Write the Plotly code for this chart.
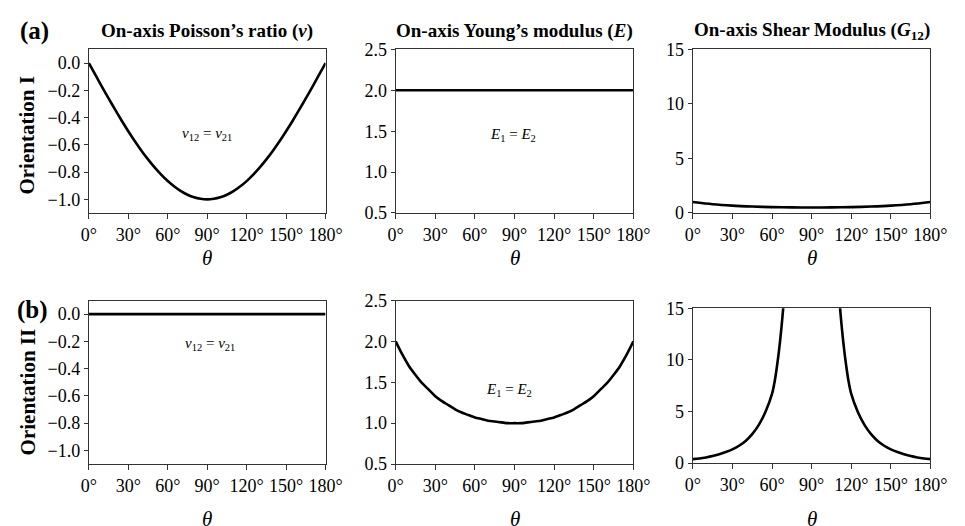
import plotly.graph_objects as go

# ---------------- data ----------------
theta5 = [0, 5, 10, 15, 20, 25, 30, 35, 40, 45, 50, 55, 60, 65, 70, 75, 80, 85, 90,
          95, 100, 105, 110, 115, 120, 125, 130, 135, 140, 145, 150, 155, 160, 165, 170, 175, 180]

# Orientation I, Poisson's ratio nu12 = nu21
nu_I = [0.0, -0.087, -0.174, -0.259, -0.342, -0.423, -0.500, -0.574, -0.643, -0.707,
        -0.766, -0.819, -0.866, -0.906, -0.940, -0.966, -0.985, -0.996, -1.0,
        -0.996, -0.985, -0.966, -0.940, -0.906, -0.866, -0.819, -0.766, -0.707,
        -0.643, -0.574, -0.500, -0.423, -0.342, -0.259, -0.174, -0.087, 0.0]

# Orientation I, Young's modulus E1 = E2
theta_E_I = [0, 180]
E_I = [2.0, 2.0]

# Orientation I, shear modulus G12
theta_G_I = [0, 15, 30, 45, 60, 75, 90, 105, 120, 135, 150, 165, 180]
G_I = [1.0, 0.80, 0.67, 0.59, 0.54, 0.51, 0.50, 0.51, 0.54, 0.59, 0.67, 0.80, 1.0]

# Orientation II, Poisson's ratio
theta_nu_II = [0, 180]
nu_II = [0.0, 0.0]

# Orientation II, Young's modulus
E_II = [2.00, 1.84, 1.70, 1.59, 1.49, 1.41, 1.33, 1.27, 1.22, 1.17, 1.13, 1.10,
        1.07, 1.05, 1.03, 1.02, 1.01, 1.00, 1.00,
        1.00, 1.01, 1.02, 1.03, 1.05, 1.07, 1.10, 1.13, 1.17, 1.22, 1.27, 1.33,
        1.41, 1.49, 1.59, 1.70, 1.84, 2.00]

# Orientation II, shear modulus (goes off scale between ~69 and ~111 deg)
theta_G_II = [0, 5, 10, 15, 20, 25, 30, 35, 40, 45, 50, 55, 60, 62, 64, 66, 68, 70, None,
              110, 112, 114, 116, 118, 120, 125, 130, 135, 140, 145, 150, 155, 160, 165, 170, 175, 180]
G_II = [0.38, 0.45, 0.55, 0.68, 0.86, 1.07, 1.33, 1.68, 2.15, 2.80, 3.70, 4.95, 6.70, 7.9, 9.6, 11.7, 14.3, 17.6, None,
        17.6, 14.3, 11.7, 9.6, 7.9, 6.70, 4.95, 3.70, 2.80, 2.15, 1.68, 1.33, 1.07, 0.86, 0.68, 0.55, 0.45, 0.38]

x_ticks = [0, 30, 60, 90, 120, 150, 180]
x_ticktext = ["0°", "30°", "60°", "90°", "120°", "150°", "180°"]
nu_ticks = [0.0, -0.2, -0.4, -0.6, -0.8, -1.0]
nu_ticktext = ["0.0", "\u22120.2", "\u22120.4", "\u22120.6", "\u22120.8", "\u22121.0"]
E_ticks = [0.5, 1.0, 1.5, 2.0, 2.5]
E_ticktext = ["0.5", "1.0", "1.5", "2.0", "2.5"]
G_ticks = [0, 5, 10, 15]
G_ticktext = ["0", "5", "10", "15"]

col_titles = ["On-axis Poisson’s ratio (<i>ν</i>)",
              "On-axis Young’s modulus (<i>E</i>)",
              "On-axis Shear Modulus (<i>G</i><sub>12</sub>)"]
row_titles = ["Orientation I", "Orientation II"]
panel_tags = ["(a)", "(b)"]

# ---------------- figure ----------------
W, H = 965, 526
FONT = "Liberation Serif"

def px_x(x):
    return x / W

def px_y(y):
    return 1 - y / H

col_x = [(83, 326), (398, 642), (703, 947)]
cell_y = {
    (1, 1): (41, 211), (1, 2): (41, 211), (1, 3): (41, 211),
    (2, 1): (302, 472), (2, 2): (302, 472), (2, 3): (310, 471),
}

fig = go.Figure()
line_style = dict(color="black", width=2.6, shape="spline", smoothing=0.8)

series = [
    ((1, 1), theta5, nu_I),
    ((1, 2), theta_E_I, E_I),
    ((1, 3), theta_G_I, G_I),
    ((2, 1), theta_nu_II, nu_II),
    ((2, 2), theta5, E_II),
    ((2, 3), theta_G_II, G_II),
]

yranges = {1: [-1.1, 0.1], 2: [0.5, 2.5], 3: [0, 15]}
yticks = {1: (nu_ticks, nu_ticktext), 2: (E_ticks, E_ticktext), 3: (G_ticks, G_ticktext)}

layout = {}
for i, ((r, c), xs, ys) in enumerate(series):
    idx = i + 1
    suffix = "" if idx == 1 else str(idx)
    fig.add_trace(go.Scatter(x=xs, y=ys, mode="lines", line=line_style,
                             connectgaps=False, showlegend=False, hoverinfo="skip",
                             xaxis="x" + suffix, yaxis="y" + suffix))
    x0, x1 = col_x[c - 1]
    ytop, ybot = cell_y[(r, c)]
    axis_common = dict(showline=True, mirror=True, linecolor="#333333", linewidth=1.2,
                       ticks="outside", tickcolor="#333333", tickwidth=1.2,
                       showgrid=False, zeroline=False,
                       tickfont=dict(family=FONT, size=18, color="black"))
    layout["xaxis" + suffix] = dict(axis_common, domain=[px_x(x0), px_x(x1)],
                                    anchor="y" + suffix, range=[0, 180],
                                    tickvals=x_ticks, ticktext=x_ticktext, ticklen=5)
    tv, tt = yticks[c]
    layout["yaxis" + suffix] = dict(axis_common, domain=[px_y(ybot), px_y(ytop)],
                                    anchor="x" + suffix, range=yranges[c],
                                    tickvals=tv, ticktext=tt, ticklen=4)

annotations = []
# column titles
for c in range(3):
    x0, x1 = col_x[c]
    annotations.append(dict(text="<b>" + col_titles[c] + "</b>", x=px_x((x0 + x1) / 2), y=px_y(22),
                            xref="paper", yref="paper", showarrow=False,
                            font=dict(family=FONT, size=19, color="black"),
                            xanchor="center", yanchor="middle"))
    # theta labels
    for yy in (258, 529):
        annotations.append(dict(text="<i>θ</i>", x=px_x((x0 + x1) / 2), y=px_y(yy),
                                xref="paper", yref="paper", showarrow=False,
                                font=dict(family=FONT, size=21, color="black"),
                                xanchor="center", yanchor="middle"))
# panel tags
annotations.append(dict(text="<b>" + panel_tags[0] + "</b>", x=px_x(27), y=px_y(22),
                        xref="paper", yref="paper", showarrow=False,
                        font=dict(family=FONT, size=25, color="black"),
                        xanchor="center", yanchor="middle"))
annotations.append(dict(text="<b>" + panel_tags[1] + "</b>", x=px_x(25), y=px_y(312),
                        xref="paper", yref="paper", showarrow=False,
                        font=dict(family=FONT, size=25, color="black"),
                        xanchor="center", yanchor="middle"))
# row titles
for txt, yy in zip(row_titles, (130, 397)):
    annotations.append(dict(text="<b>" + txt + "</b>", x=px_x(20), y=px_y(yy),
                            xref="paper", yref="paper", showarrow=False, textangle=-90,
                            font=dict(family=FONT, size=21, color="black"),
                            xanchor="center", yanchor="middle"))
# in-plot equations
nu_eq = "<i>ν</i><sub>12</sub> = <i>ν</i><sub>21</sub>"
E_eq = "<i>E</i><sub>1</sub> = <i>E</i><sub>2</sub>"
eq_font = dict(family=FONT, size=15, color="black")
annotations += [
    dict(text=nu_eq, x=90, y=-0.52, xref="x", yref="y", showarrow=False, font=eq_font),
    dict(text=E_eq, x=89, y=1.45, xref="x2", yref="y2", showarrow=False, font=eq_font),
    dict(text=nu_eq, x=92, y=-0.22, xref="x4", yref="y4", showarrow=False, font=eq_font),
    dict(text=E_eq, x=86, y=1.41, xref="x5", yref="y5", showarrow=False, font=eq_font),
]

fig.update_layout(**layout)
fig.update_layout(width=W, height=H, margin=dict(l=0, r=0, t=0, b=0),
                  paper_bgcolor="white", plot_bgcolor="white",
                  annotations=annotations, showlegend=False,
                  font=dict(family=FONT, color="black"))

fig.write_html("out.html")
